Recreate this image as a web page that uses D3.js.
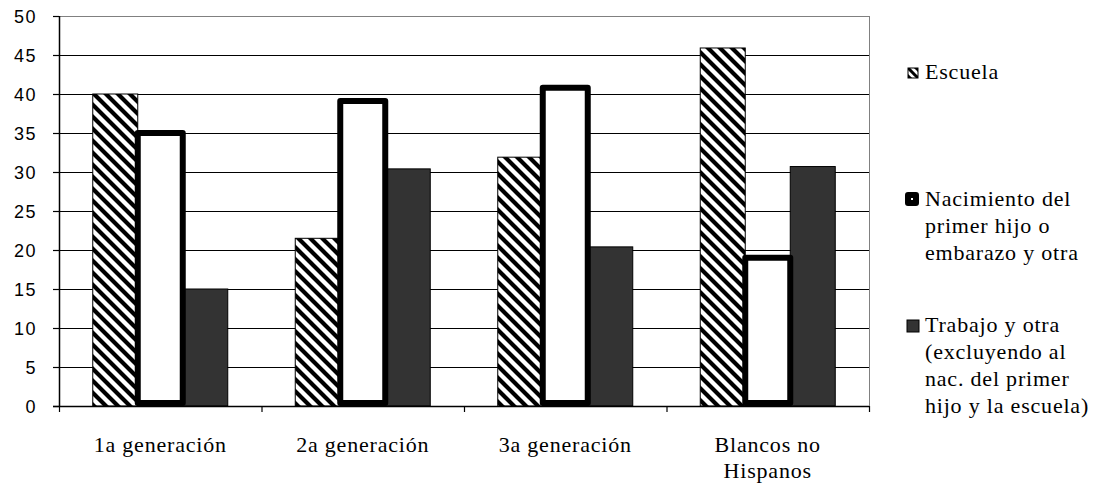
<!DOCTYPE html>
<html>
<head>
<meta charset="utf-8">
<script src="https://cdn.jsdelivr.net/npm/d3@7"></script>
<style>
  html, body { margin: 0; padding: 0; background: #fff; }
  svg { display: block; }
</style>
</head>
<body>
<svg id="chart" width="1094" height="486"></svg>
<script>
const categories = [["1a generación"], ["2a generación"], ["3a generación"], ["Blancos no", "Hispanos"]];
const seriesNames = ["Escuela", "Nacimiento", "Trabajo"];
const escuela    = [40, 21.5, 31.9, 45.9];
const nacimiento = [35, 39.1, 40.8, 19];
const trabajo    = [15, 30.4, 20.4, 30.7];
const yTicks = [0, 5, 10, 15, 20, 25, 30, 35, 40, 45, 50];
const legendLabels = [
  ["Escuela"],
  ["Nacimiento del", "primer hijo o", "embarazo y otra"],
  ["Trabajo y otra", "(excluyendo al", "nac. del primer", "hijo y la escuela)"]
];

const SERIF = "Liberation Serif, Times New Roman, serif";
const SANS = "Liberation Sans, Arial, sans-serif";

const svg = d3.select("#chart");
const mLeft = 59, mRight = 869, mTop = 16, mBottom = 406;

const defs = svg.append("defs");
const pat = defs.append("pattern").attr("id", "hatch")
  .attr("patternUnits", "userSpaceOnUse").attr("width", 12).attr("height", 12);
pat.append("rect").attr("width", 12).attr("height", 12).attr("fill", "#fff");
pat.append("path").attr("d", "M-3,-3 L15,15 M-9,3 L9,21 M3,-9 L21,9")
  .attr("stroke", "#000").attr("stroke-width", 4.2);

const pat2 = defs.append("pattern").attr("id", "hatchSmall")
  .attr("patternUnits", "userSpaceOnUse").attr("width", 8).attr("height", 8)
  .attr("x", 908).attr("y", 68);
pat2.append("rect").attr("width", 8).attr("height", 8).attr("fill", "#fff");
pat2.append("path").attr("d", "M-2,-2 L10,10 M-6,2 L6,14 M2,-6 L14,6")
  .attr("stroke", "#000").attr("stroke-width", 3);

const x = d3.scaleBand().domain(d3.range(categories.length))
  .range([mLeft, mRight]).paddingInner(1/3).paddingOuter(1/6);
const xs = d3.scaleBand().domain(seriesNames).range([0, x.bandwidth()]);
const y = d3.scaleLinear().domain([0, 50]).range([mBottom, mTop]);

svg.append("g").selectAll("line").data(yTicks.filter(d => d > 0 && d < 50)).join("line")
  .attr("x1", mLeft).attr("x2", mRight)
  .attr("y1", d => y(d) + 0.5).attr("y2", d => y(d) + 0.5)
  .attr("stroke", "#000").attr("stroke-width", 1);
svg.append("line").attr("x1", mLeft).attr("x2", mRight + 0.5)
  .attr("y1", y(50) + 0.5).attr("y2", y(50) + 0.5).attr("stroke", "#808080");
svg.append("line").attr("x1", mRight + 0.5).attr("x2", mRight + 0.5)
  .attr("y1", y(50)).attr("y2", y(0)).attr("stroke", "#808080");

const g = svg.append("g");
categories.forEach((c, i) => {
  g.append("rect")
    .attr("x", x(i) + xs("Escuela")).attr("y", y(escuela[i]))
    .attr("width", xs.bandwidth()).attr("height", y(0) - y(escuela[i]))
    .attr("fill", "url(#hatch)").attr("stroke", "#000").attr("stroke-width", 1);
  g.append("rect")
    .attr("x", x(i) + xs("Trabajo")).attr("y", y(trabajo[i]))
    .attr("width", xs.bandwidth()).attr("height", y(0) - y(trabajo[i]))
    .attr("fill", "#333333").attr("stroke", "#000").attr("stroke-width", 1);
});

svg.append("line").attr("x1", mLeft + 0.5).attr("x2", mLeft + 0.5)
  .attr("y1", y(50)).attr("y2", y(0) + 0.5).attr("stroke", "#000").attr("stroke-width", 1.5);
svg.append("line").attr("x1", mLeft - 6).attr("x2", mRight)
  .attr("y1", y(0) + 0.5).attr("y2", y(0) + 0.5).attr("stroke", "#000").attr("stroke-width", 1.5);

categories.forEach((c, i) => {
  g.append("rect")
    .attr("x", x(i) + xs("Nacimiento")).attr("y", y(nacimiento[i]))
    .attr("width", xs.bandwidth()).attr("height", y(0) - y(nacimiento[i]) - 3)
    .attr("fill", "#fff").attr("stroke", "#000").attr("stroke-width", 6)
    .attr("stroke-linejoin", "round");
});

const yAxisG = svg.append("g");
yAxisG.selectAll("line").data(yTicks).join("line")
  .attr("x1", mLeft - 6).attr("x2", mLeft)
  .attr("y1", d => y(d) + 0.5).attr("y2", d => y(d) + 0.5)
  .attr("stroke", "#000").attr("stroke-width", 1.2);
yAxisG.selectAll("text").data(yTicks).join("text")
  .style("font-family", SANS).style("font-size", "18px").style("letter-spacing", "1.5px")
  .attr("x", 37).attr("y", d => y(d) + 7)
  .attr("text-anchor", "end").attr("fill", "#000")
  .text(d => d);

const bounds = d3.range(categories.length + 1).map(i => mLeft + i * x.step());
svg.append("g").selectAll("line").data(bounds).join("line")
  .attr("x1", d => d + 0.5).attr("x2", d => d + 0.5)
  .attr("y1", y(0)).attr("y2", y(0) + 6)
  .attr("stroke", "#000").attr("stroke-width", 1.2);

const xl = svg.append("g");
categories.forEach((lines, i) => {
  const t = xl.append("text")
    .style("font-family", SERIF).style("font-size", "22px").style("letter-spacing", "0.8px")
    .attr("text-anchor", "middle").attr("fill", "#000");
  lines.forEach((l, j) => {
    t.append("tspan").attr("x", x(i) + x.bandwidth() / 2).attr("y", 452 + j * 26).text(l);
  });
});

const legY = [79, 206, 332];
const lg = svg.append("g");
legendLabels.forEach((lines, k) => {
  const t = lg.append("text")
    .style("font-family", SERIF).style("font-size", "22px").style("letter-spacing", "0.8px")
    .attr("fill", "#000");
  lines.forEach((l, j) => {
    t.append("tspan").attr("x", 925).attr("y", legY[k] + j * 27).text(l);
  });
});
lg.append("rect").attr("x", 908).attr("y", 68).attr("width", 10).attr("height", 10)
  .attr("fill", "url(#hatchSmall)").attr("stroke", "#000").attr("stroke-width", 1);
lg.append("rect").attr("x", 908).attr("y", 195).attr("width", 8).attr("height", 8)
  .attr("fill", "#fff").attr("stroke", "#000").attr("stroke-width", 6).attr("stroke-linejoin", "round");
lg.append("rect").attr("x", 907).attr("y", 320).attr("width", 12).attr("height", 12)
  .attr("fill", "#333333").attr("stroke", "#000").attr("stroke-width", 1);
</script>
</body>
</html>
